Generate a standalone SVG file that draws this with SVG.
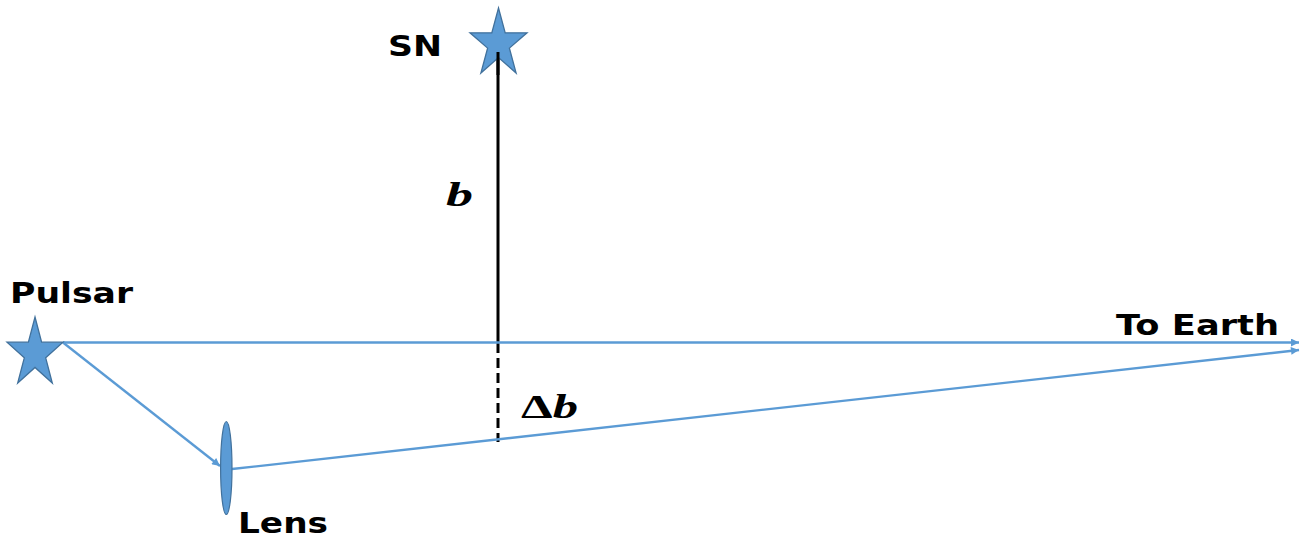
<svg xmlns="http://www.w3.org/2000/svg" width="1300" height="537" viewBox="0 0 1300 537">
<style>
.lbl{font-family:"DejaVu Sans","Verdana",sans-serif;font-weight:bold;font-size:27.5px;fill:#000}
.math{font-family:"Liberation Serif","Times New Roman",serif;font-weight:bold;fill:#000}
.ray{stroke:#5B9BD5;stroke-width:2.3;fill:none}
.star{fill:#5B9BD5;stroke:#41719C;stroke-width:1.3}
</style>
<defs>
<marker id="arr" viewBox="0 0 10 10" refX="10" refY="5" markerWidth="11" markerHeight="8" markerUnits="userSpaceOnUse" orient="auto">
<path d="M0,0 L10,5 L0,10 Z" fill="#5B9BD5"/>
</marker>
</defs>
<rect width="1300" height="537" fill="#fff"/>
<g id="connectors">
<line x1="498" y1="52" x2="498" y2="342" stroke="#000" stroke-width="3"/>
<line x1="498" y1="343" x2="498" y2="442" stroke="#000" stroke-width="3" stroke-dasharray="10,5"/>
<line class="ray" x1="63" y1="342.5" x2="1299" y2="342.5" marker-end="url(#arr)"/>
<line class="ray" x1="63" y1="342.5" x2="220" y2="466" marker-end="url(#arr)"/>
<line class="ray" x1="232" y1="469" x2="1299" y2="350" marker-end="url(#arr)"/>
</g>
<g id="sn">
<polygon class="star" points="498.5,8 505.2,32.8 527,32.8 509.4,48.1 516.1,73 498.5,57.6 480.9,73 487.6,48.1 470,32.8 491.8,32.8"/>
<line x1="498" y1="52" x2="498" y2="75" stroke="#000" stroke-width="3"/>
<text class="lbl" x="388" y="56" textLength="54" lengthAdjust="spacingAndGlyphs">SN</text>
</g>
<g id="pulsar">
<polygon class="star" points="35,317 41.6,342.2 63,342.2 45.7,357.8 52.3,383 35,367.4 17.7,383 24.3,357.8 7,342.2 28.4,342.2"/>
<text class="lbl" x="10" y="303" textLength="123" lengthAdjust="spacingAndGlyphs">Pulsar</text>
</g>
<g id="lens">
<ellipse cx="226.3" cy="468" rx="5.7" ry="46.5" fill="#5B9BD5" stroke="#41719C" stroke-width="1.2"/>
<text class="lbl" x="238" y="533" textLength="90" lengthAdjust="spacingAndGlyphs">Lens</text>
</g>
<g id="earth">
<text class="lbl" x="1116" y="335" textLength="163" lengthAdjust="spacingAndGlyphs">To Earth</text>
</g>
<g id="b-label">
<text class="math" x="446" y="206" font-size="34" font-style="italic" textLength="27" lengthAdjust="spacingAndGlyphs">b</text>
</g>
<g id="db-label">
<text class="math" x="521" y="418" font-size="34" textLength="57" lengthAdjust="spacingAndGlyphs"><tspan>Δ</tspan><tspan font-style="italic">b</tspan></text>
</g>
</svg>
